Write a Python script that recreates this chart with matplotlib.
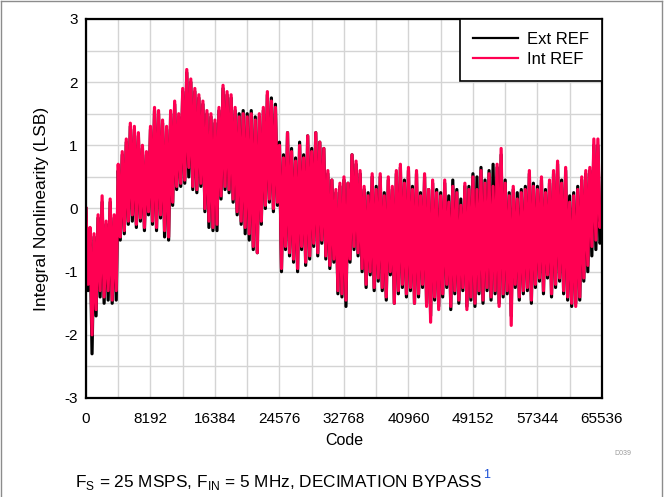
import numpy as np
import matplotlib
matplotlib.use("Agg")
import matplotlib.pyplot as plt
from matplotlib.lines import Line2D
from matplotlib.ticker import MultipleLocator

plt.rcParams['font.family'] = ['Liberation Sans', 'DejaVu Sans']
plt.rcParams['mathtext.fontset'] = 'custom'
plt.rcParams['mathtext.rm'] = 'Liberation Sans'
plt.rcParams['axes.unicode_minus'] = False

# INL, one row per 4096 codes, a point every 256 codes
int_ref = [
    0.0, -1.2, -0.3, -2.0, -0.4, -1.6, -0.1, -1.3, 0.2, -1.4, -0.2, -1.3, 0.15, -1.45, -0.1, -1.3,
    0.7, -0.45, 0.9, -0.35, 1.1, -0.2, 1.35, -0.1, 1.3, -0.25, 1.2, -0.15, 1.0, -0.3, 0.9, -0.05,
    1.3, -0.2, 1.6, -0.3, 1.55, -0.1, 1.4, -0.35, 1.3, -0.45, 1.55, 0.1, 1.7, 0.35, 1.5, 0.4,
    1.9, 0.45, 2.2, 0.65, 2.05, 0.35, 1.9, 0.3, 1.8, 0.4, 1.7, 0.0, 1.55, -0.2, 1.5, -0.3,
    1.4, -0.25, 1.6, 0.2, 1.95, 0.35, 1.85, 0.3, 1.8, 0.15, 1.6, -0.05, 1.45, -0.2, 1.5, -0.3,
    1.45, -0.4, 1.5, -0.6, 1.4, -0.7, 1.5, -0.2, 1.6, 0.05, 1.85, 0.15, 1.7, 0.0, 1.6, 0.1,
    1.0, -0.95, 0.8, -0.6, 1.2, -0.7, 0.9, -0.8, 0.75, -0.95, 1.0, -0.6, 0.8, -0.85, 1.15, -0.75,
    0.9, -0.55, 1.2, -0.7, 1.05, -0.5, 0.95, -0.75, 0.6, -0.9, 0.45, -0.8, 0.3, -1.3, 0.4, -1.35,
    0.5, -1.45, 0.4, -0.8, 0.85, -0.6, 0.75, -0.7, 0.6, -0.95, 0.35, -1.2, 0.2, -1.0, 0.55, -1.25,
    0.3, -1.1, 0.55, -1.25, 0.2, -1.4, 0.5, -1.0, 0.35, -1.5, 0.6, -1.3, 0.7, -1.2, 0.4, -1.35,
    0.65, -1.25, 0.3, -1.5, 0.6, -1.35, 0.2, -1.2, 0.55, -1.55, 0.3, -1.8, 0.45, -1.4, 0.25, -1.6,
    0.2, -1.35, 0.45, -1.2, 0.1, -1.55, 0.35, -1.3, 0.25, -1.45, 0.05, -1.25, 0.4, -1.6, 0.3, -1.4,
    0.5, -1.5, 0.3, -1.3, 0.6, -1.45, 0.4, -1.25, 0.55, -1.4, 0.35, -1.3, 0.7, -1.55, 0.95, -1.35,
    0.4, -1.3, 0.2, -1.85, 0.35, -1.2, 0.15, -1.4, 0.25, -1.3, 0.3, -1.25, 0.6, -1.45, 0.35, -1.2,
    0.3, -1.1, 0.5, -1.3, 0.25, -1.05, 0.45, -1.35, 0.6, -1.2, 0.75, -1.1, 0.4, -1.3, 0.65, -1.4,
    0.1, -1.5, 0.2, -1.55, 0.3, -1.4, 0.5, -1.1, 0.6, -0.9, 0.65, -0.6, 1.1, -0.5, 1.1, -0.3,
    0.0,
]

ext_ref = [
    0.0, -1.3, -0.35, -2.3, -0.45, -1.7, -0.15, -1.4, 0.1, -1.5, -0.25, -1.45, 0.1, -1.5, -0.15, -1.45,
    0.6, -0.5, 0.85, -0.4, 1.05, -0.25, 1.3, -0.2, 1.25, -0.3, 1.15, -0.2, 0.95, -0.35, 0.85, -0.1,
    1.25, -0.25, 1.55, -0.35, 1.5, -0.15, 1.35, -0.45, 1.25, -0.5, 1.5, 0.05, 1.65, 0.3, 1.45, 0.35,
    1.85, 0.4, 2.15, 0.5, 2.0, 0.3, 1.85, 0.25, 1.75, 0.35, 1.65, -0.05, 1.5, -0.3, 1.45, -0.35,
    1.35, -0.35, 1.55, 0.15, 1.9, 0.3, 1.8, 0.25, 1.75, 0.1, 1.55, -0.1, 1.5, -0.25, 1.55, -0.4,
    1.5, -0.5, 1.55, -0.65, 1.45, -0.7, 1.45, -0.25, 1.55, 0.0, 1.8, 0.1, 1.75, -0.05, 1.65, 0.05,
    1.05, -1.0, 0.85, -0.65, 1.2, -0.75, 0.95, -0.85, 0.8, -1.0, 1.05, -0.65, 0.85, -0.9, 1.15, -0.8,
    0.95, -0.6, 1.2, -0.75, 1.05, -0.55, 0.95, -0.8, 0.55, -0.95, 0.45, -0.85, 0.25, -1.35, 0.35, -1.4,
    0.45, -1.55, 0.4, -0.85, 0.85, -0.65, 0.7, -0.75, 0.55, -1.0, 0.3, -1.25, 0.25, -1.05, 0.5, -1.3,
    0.35, -1.15, 0.5, -1.3, 0.25, -1.45, 0.45, -1.05, 0.3, -1.5, 0.55, -1.35, 0.65, -1.25, 0.45, -1.4,
    0.6, -1.3, 0.35, -1.5, 0.55, -1.4, 0.25, -1.25, 0.5, -1.5, 0.3, -1.7, 0.4, -1.45, 0.3, -1.55,
    0.25, -1.4, 0.4, -1.25, 0.2, -1.6, 0.45, -1.35, 0.3, -1.5, 0.15, -1.3, 0.35, -1.55, 0.35, -1.45,
    0.55, -1.55, 0.5, -1.35, 0.65, -1.5, 0.45, -1.3, 0.6, -1.45, 0.7, -1.35, 0.65, -1.5, 0.85, -1.4,
    0.45, -1.35, 0.25, -1.7, 0.3, -1.25, 0.25, -1.45, 0.3, -1.35, 0.35, -1.3, 0.55, -1.5, 0.4, -1.25,
    0.35, -1.15, 0.45, -1.35, 0.3, -1.1, 0.4, -1.4, 0.55, -1.25, 0.7, -1.15, 0.45, -1.35, 0.6, -1.45,
    0.2, -1.55, 0.25, -1.5, 0.35, -1.45, 0.45, -1.15, 0.55, -1.0, 0.6, -0.75, 1.0, -0.65, 1.0, -0.55,
    -0.5,
]

codes = np.linspace(0, 65536, len(int_ref))
xticks = [0, 8192, 16384, 24576, 32768, 40960, 49152, 57344, 65536]
yticks = [-3, -2, -1, 0, 1, 2, 3]

fig = plt.figure(figsize=(6.64, 4.97), dpi=100)
ax = fig.add_axes([0.1295, 0.1992, 0.777, 0.7626])

ax.plot(codes, ext_ref, color='black', lw=2.3, label='Ext REF')
ax.plot(codes, int_ref, color='#ff0052', lw=2.3, label='Int REF')

ax.set_xlim(0, 65536)
ax.set_ylim(-3, 3)
ax.set_xticks(xticks)
ax.set_yticks(yticks)
ax.xaxis.set_minor_locator(MultipleLocator(4096))
ax.yaxis.set_minor_locator(MultipleLocator(0.5))
ax.grid(which='both', color='#d4d4d4', lw=1.0)
ax.set_axisbelow(True)
ax.tick_params(which='both', length=0, labelsize=11, pad=6)
ax.tick_params(axis='x', pad=10)
for s in ax.spines.values():
    s.set_linewidth(1.6)

ax.set_xlabel('Code', fontsize=11.5, labelpad=5)
ax.set_ylabel('Integral Nonlinearity (LSB)', fontsize=12.5, labelpad=11)

leg = ax.legend(loc='upper right', fontsize=12, frameon=True, fancybox=False,
                framealpha=1, edgecolor='black', borderaxespad=0,
                handlelength=2.7, handletextpad=0.5, labelspacing=0.3,
                borderpad=0.8)
leg.get_frame().set_linewidth(1.2)
for h in leg.get_lines():
    h.set_linewidth(1.6)

fig.text(0.938, 0.084, 'D039', fontsize=5, color='#999999', ha='center')

title = fig.text(0.42, 0.02,
                 r'F$_\mathrm{S}$ = 25 MSPS, F$_\mathrm{IN}$ = 5 MHz, DECIMATION BYPASS',
                 fontsize=12.4, ha='center', va='baseline')
fig.canvas.draw()
bb = title.get_window_extent()
fig.text(bb.x1 / fig.bbox.width + 0.0015, 0.038, '1', fontsize=9,
         color='#1a4fd6', ha='left', va='baseline')

# thin grey page border on top, left and right
border = '#8c8c8c'
fig.add_artist(Line2D([0.002, 0.002], [0, 0.998], color=border, lw=1))
fig.add_artist(Line2D([0.997, 0.997], [0, 0.998], color=border, lw=1))
fig.add_artist(Line2D([0.002, 0.997], [0.998, 0.998], color=border, lw=1))

fig.savefig('out.png', dpi=100)
